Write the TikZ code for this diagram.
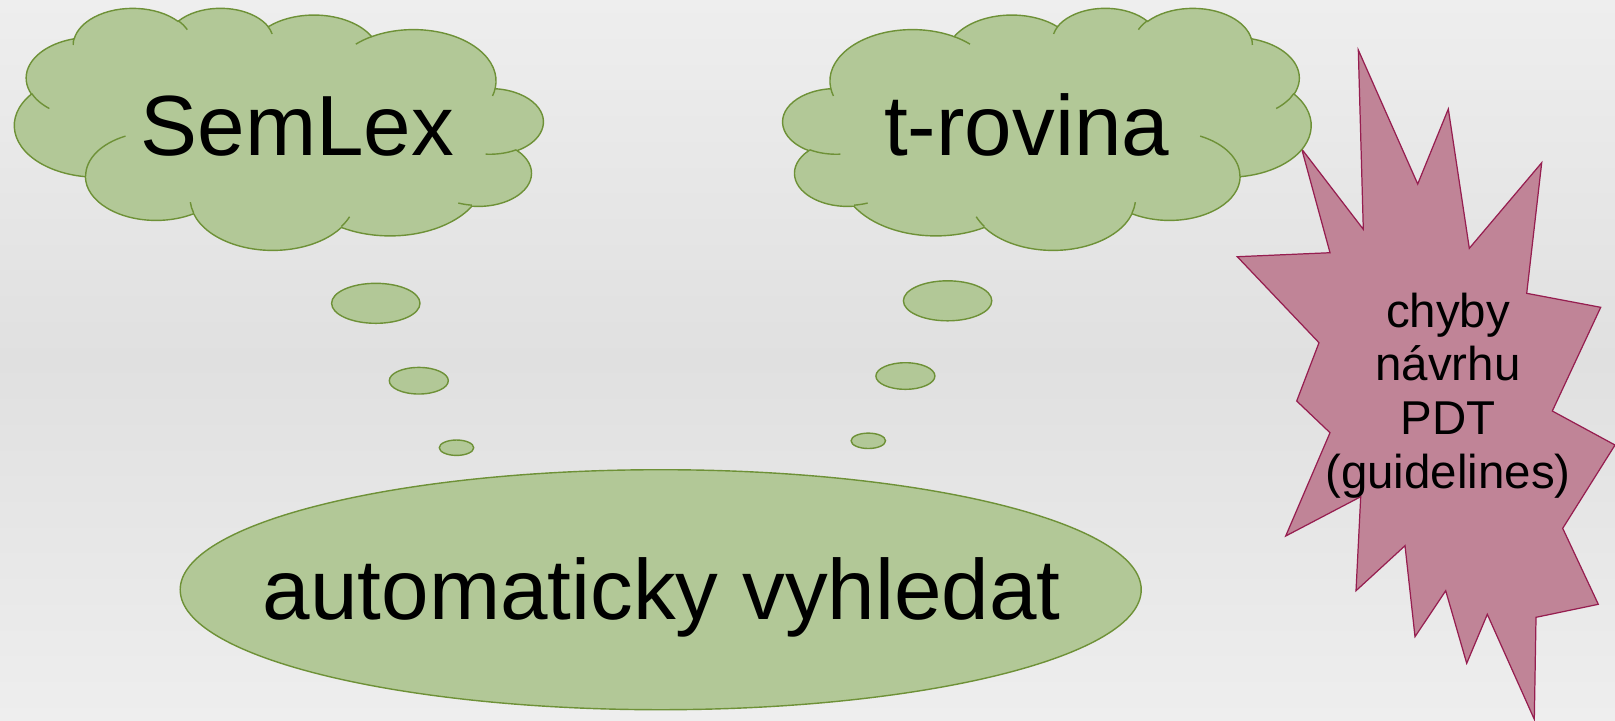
\documentclass[tikz,border=0pt]{standalone}
\usepackage{fontspec}
\setmainfont{Liberation Sans}
\usepackage{xcolor}

\definecolor{cloudfill}{RGB}{178,200,151}
\definecolor{clouddraw}{RGB}{110,145,55}
\definecolor{burstfill}{RGB}{192,132,151}
\definecolor{burstdraw}{RGB}{150,30,80}
\definecolor{bgedge}{RGB}{238,238,238}
\definecolor{bgmid}{RGB}{224,224,224}

\tikzset{declare function={vis(\a,\w,\h)=atan2(\w*sin(\a),\h*cos(\a));}}

% one puff of a cloud; angles are the visible ones, turned into parametric ones
\newcommand{\puff}[4]{arc[x radius=#1, y radius=#2, start angle={vis(#3,#1,#2)},
    delta angle={mod(vis(#3+#4,#1,#2)-vis(#3,#1,#2)+720,360)}]}

% cloud outline, drawn in a 432 x 432 box
\newcommand{\cloudoutline}{(39,143.7)
    \puff{67.53}{91.9}{-190.488}{123.78}
    \puff{53.33}{72.67}{-144.102}{89.945}
    \puff{43.65}{59.45}{-145.808}{99.723}
    \puff{48.57}{65.95}{-130.986}{117.242}
    \puff{53.33}{72.73}{-78.709}{109.027}
    \puff{67.75}{92.2}{-46.267}{130.269}
    \puff{57.85}{78.67}{0.625}{114.033}
    \puff{67.52}{92.15}{22.452}{115.173}
    \puff{77.2}{105.43}{66.243}{75.711}
    \puff{43.6}{59.18}{-274.942}{146.736}
    \puff{43.45}{59.45}{-246.829}{152.519} -- cycle}

% the short folds between the puffs
\newcommand{\cloudfolds}{
    (46.93,261.77) \puff{43.45}{59.45}{86.742}{26.43}
    (69.28,348.99) \puff{43.6}{59.18}{73.61}{11.447}
    (164.78,390.9) \puff{67.52}{92.15}{137.624}{14.081}
    (288.27,347.51) \puff{67.52}{92.15}{6.453}{15.998}
    (341.29,229.54) \puff{57.85}{78.67}{-70.292}{70.917}
    (417.98,153.54) \puff{53.33}{72.73}{30.318}{27.752}
    (383.24,54.26) \puff{48.57}{65.95}{-13.744}{14.859}
    (290.78,39.52) \puff{48.57}{65.95}{-149.181}{18.195}
    (221.41,47.2) \puff{43.65}{59.45}{-163.494}{17.686}
    (140,51.92) \puff{67.53}{91.9}{-66.707}{12.319}
    (41.27,157.89) \puff{67.53}{91.9}{157.654}{11.858}}

\begin{document}
\begin{tikzpicture}[
        x=0.01cm, y=0.01cm, yscale=-1,
        puffy/.style={fill=cloudfill, draw=clouddraw, line width=0.4pt},
        fold/.style={draw=clouddraw, line width=0.4pt},
        burst/.style={fill=burstfill, draw=burstdraw, line width=0.35pt, line join=miter},
        every node/.style={inner sep=0pt, font=\fontsize{24.3}{28}\selectfont}
    ]
    \useasboundingbox (0,0) rectangle (1615,720);
    \shade[top color=bgedge, bottom color=bgedge, middle color=bgmid] (0,0) rectangle (1615,720);

    % explosion on the right
    \draw[burst] (1358.3,50) -- (1417.7,184) -- (1448.3,109) -- (1469.3,248.3)
        -- (1541.7,162.7) -- (1526.7,293.3) -- (1600.7,307.3) -- (1552.3,411)
        -- (1615,445) -- (1562.7,528.3) -- (1598.3,604.3) -- (1536,617.3)
        -- (1534.3,719.3) -- (1487.3,614.3) -- (1466.7,663.3) -- (1445.7,590.7)
        -- (1415,636.7) -- (1405,545.7) -- (1356,590.7) -- (1360.7,496.7)
        -- (1285.7,536) -- (1330,432.7) -- (1296.7,401) -- (1319,342.7)
        -- (1237.3,256.7) -- (1330,252.7) -- (1301.7,149) -- (1363.3,229.3) -- cycle;

    % left cloud (mirrored)
    \begin{scope}[shift={(543,7.5)}, xscale=-1.2234, yscale=0.5602]
        \path[puffy] \cloudoutline;
        \path[fold] \cloudfolds;
    \end{scope}
    % right cloud
    \begin{scope}[shift={(783,7.5)}, xscale=1.2222, yscale=0.5602]
        \path[puffy] \cloudoutline;
        \path[fold] \cloudfolds;
    \end{scope}

    % thought bubbles
    \foreach \x/\y/\rx/\ry in {375.8/303.3/44.2/20, 418.8/380.7/29.5/13.3,
            456.5/447.7/17.2/7.7, 947.6/300.8/44.2/20, 905.4/376/29.5/13.3,
            868.3/440.8/17.2/7.7}
        \draw[puffy] (\x,\y) ellipse [x radius=\rx, y radius=\ry];

    \draw[puffy] (660.7,589.7) ellipse [x radius=480.5, y radius=120];

    \node[anchor=base] (semlex) at (297.5,155) {SemLex};
    \node[anchor=base] (trovina) at (1026.7,155) {t-rovina};
    \node[anchor=base] (search) at (661.7,619.3) {automaticky vyhledat};
    \node[align=center, anchor=north, font=\fontsize{13.5}{15.3}\selectfont]
        (flaws) at (1448,292) {chyby\\návrhu\\PDT\\(guidelines)};
\end{tikzpicture}
\end{document}
